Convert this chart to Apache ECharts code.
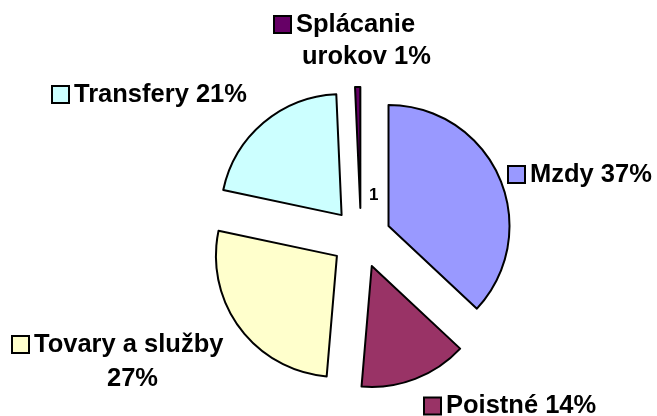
<!DOCTYPE html>
<html>
<head>
<meta charset="utf-8">
<script src="https://cdn.jsdelivr.net/npm/echarts@6/dist/echarts.min.js"></script>
<style>html,body{margin:0;padding:0;background:#fff}#c{width:657px;height:416px}</style>
</head>
<body>
<div id="c"></div>
<script>
const categories = ['Mzdy', 'Poistné', 'Tovary a služby', 'Transfery', 'Splácanie urokov'];
const values = [37, 14.4, 27, 21, 0.7];
const colors = ['#9999FF', '#993366', '#FFFFCC', '#CCFFFF', '#660066'];

// label placement (layout only)
const labelPlace = [
  { x: 509, y: 174.5, lh: 32, firstWords: 0, indent: 0 },
  { x: 425, y: 406, lh: 32, firstWords: 0, indent: 0 },
  { x: 13, y: 361.5, lh: 34, firstWords: 3, indent: 94 },
  { x: 53, y: 94.5, lh: 32, firstWords: 0, indent: 0 },
  { x: 275, y: 40.5, lh: 32, firstWords: 1, indent: 27 }
];

const FONT = "'Liberation Sans', Arial, Helvetica, sans-serif";
const FS = 25.5;
const rich = { g: { width: 6 } };
colors.forEach((c, i) => {
  rich['sq' + i] = { width: 15, height: 15, backgroundColor: c, borderColor: '#000', borderWidth: 2 };
  rich['in' + i] = { width: labelPlace[i].indent };
  rich['t' + i] = { fontSize: FS, fontWeight: 'bold', color: '#000', fontFamily: FONT, lineHeight: labelPlace[i].lh };
});

const common = {
  type: 'pie',
  center: [361, 238],
  radius: [0, 121],
  startAngle: 90,
  clockwise: true,
  percentPrecision: 0,
  avoidLabelOverlap: false,
  emphasis: { disabled: true },
  labelLine: { show: false }
};

const chart = echarts.init(document.getElementById('c'), null, { renderer: 'canvas' });
chart.setOption({
  backgroundColor: '#fff',
  animation: false,
  series: [
    Object.assign({}, common, {
      selectedMode: 'multiple',
      selectedOffset: 30,
      itemStyle: { borderColor: '#000', borderWidth: 2 },
      select: { itemStyle: { borderColor: '#000', borderWidth: 2 }, label: { show: false } },
      label: { show: false },
      data: categories.map((n, i) => ({ name: n, value: values[i], selected: true, itemStyle: { color: colors[i] } }))
    }),
    Object.assign({}, common, {
      selectedMode: false,
      silent: true,
      z: 3,
      itemStyle: { color: 'rgba(0,0,0,0)', borderWidth: 0 },
      label: {
        show: true,
        position: 'outside',
        formatter: function (p) {
          const i = p.dataIndex;
          const pl = labelPlace[i];
          const words = (p.name + ' ' + p.percent + '%').split(' ');
          const sq = '{sq' + i + '|}{g|}';
          if (pl.firstWords > 0) {
            return sq + '{t' + i + '|' + words.slice(0, pl.firstWords).join(' ') + '}\n' +
              '{in' + i + '|}{t' + i + '|' + words.slice(pl.firstWords).join(' ') + '}';
          }
          return sq + '{t' + i + '|' + words.join(' ') + '}';
        },
        rich: rich
      },
      labelLayout: function (params) {
        const pl = labelPlace[params.dataIndex];
        return { x: pl.x, y: pl.y, align: 'left', verticalAlign: 'middle' };
      },
      data: categories.map((n, i) => ({ name: n, value: values[i] }))
    })
  ],
  graphic: [{
    type: 'text',
    style: { text: '1', x: 369, y: 195, font: 'bold 17px ' + FONT, fill: '#000', verticalAlign: 'middle' }
  }]
});
</script>
</body>
</html>
